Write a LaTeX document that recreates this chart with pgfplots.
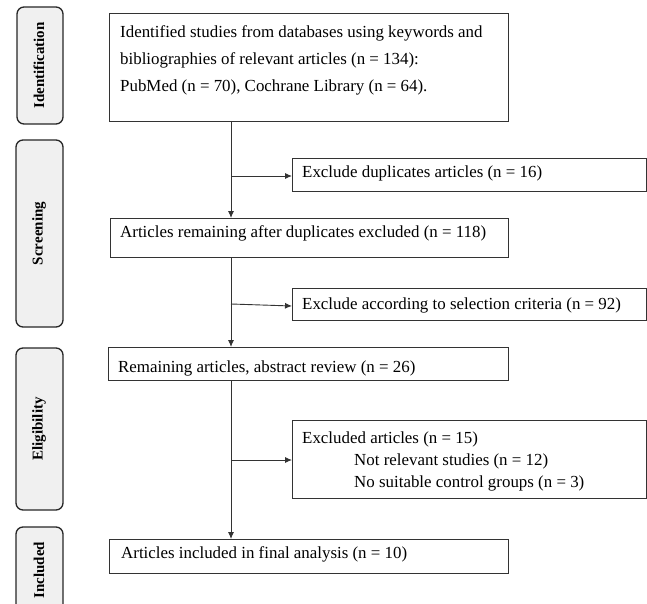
\documentclass[border=0pt]{standalone}
\usepackage{fontspec}
\setmainfont{Liberation Serif}
\usepackage{pgfplots}
\pgfplotsset{compat=1.18}
\usetikzlibrary{arrows.meta}

\begin{document}
\begin{tikzpicture}
\begin{axis}[
    width=647pt, height=604pt,
    scale only axis,
    xmin=0, xmax=647,
    ymin=0, ymax=604,
    y dir=reverse,
    hide axis,
]
% stage labels on the left
\tikzset{stage/.style={line width=1.3pt, black!85, fill=black!6, rounded corners=7pt},
         st/.style={rotate=90, font=\fontsize{15}{17}\selectfont\bfseries}}
\draw[stage] (axis cs:17,7) rectangle (axis cs:63,124);
\draw[stage] (axis cs:16,140) rectangle (axis cs:63,327);
\draw[stage] (axis cs:16,348) rectangle (axis cs:63,510);
\draw[stage] (axis cs:16,527) rectangle (axis cs:63,625);
\node[st] at (axis cs:39,65.5) {Identification};
\node[st] at (axis cs:39,233.5) {Screening};
\node[st] at (axis cs:39,429) {Eligibility};
\node[st] at (axis cs:39,570) {Included};

% main boxes
\tikzset{bx/.style={line width=0.9pt, black!80}, tx/.style={anchor=base west, inner sep=0pt, font=\fontsize{16.9}{19}\selectfont}}
\draw[bx] (axis cs:109,13) rectangle (axis cs:508,121);
\draw[bx] (axis cs:292,158) rectangle (axis cs:646,191);
\draw[bx] (axis cs:110,218) rectangle (axis cs:508,257);
\draw[bx] (axis cs:292,288) rectangle (axis cs:646,320);
\draw[bx] (axis cs:108,347) rectangle (axis cs:508,380);
\draw[bx] (axis cs:292,420) rectangle (axis cs:646,498);
\draw[bx] (axis cs:109,539) rectangle (axis cs:508,573);

\node[tx] at (axis cs:120,38) {Identified studies from databases using keywords and};
\node[tx] at (axis cs:120,65) {bibliographies of relevant articles (n = 134):};
\node[tx] at (axis cs:120,92) {PubMed (n = 70), Cochrane Library (n = 64).};
\node[tx] at (axis cs:302,177) {Exclude duplicates articles (n = 16)};
\node[tx] at (axis cs:120,237) {Articles remaining after duplicates excluded (n = 118)};
\node[tx] at (axis cs:302,309) {Exclude according to selection criteria (n = 92)};
\node[tx] at (axis cs:118,372) {Remaining articles, abstract review (n = 26)};
\node[tx] at (axis cs:302,443) {Excluded articles (n = 15)};
\node[tx] at (axis cs:354,465) {Not relevant studies (n = 12)};
\node[tx] at (axis cs:354,487) {No suitable control groups (n = 3)};
\node[tx] at (axis cs:121,558) {Articles included in final analysis (n = 10)};

% connectors
\tikzset{ar/.style={line width=0.9pt, black!80, -{Latex[length=7pt, width=6pt]}}}
\draw[ar] (axis cs:231,121) -- (axis cs:231,218);
\draw[ar] (axis cs:231,176) -- (axis cs:292,176);
\draw[ar] (axis cs:231,257) -- (axis cs:231,347);
\draw[ar] (axis cs:231,304) -- (axis cs:292,306);
\draw[ar] (axis cs:231,380) -- (axis cs:231,539);
\draw[ar] (axis cs:231,460) -- (axis cs:292,460);
\end{axis}
\pgfresetboundingbox
\path (current axis.south west) rectangle (current axis.north east);
\end{tikzpicture}
\end{document}
